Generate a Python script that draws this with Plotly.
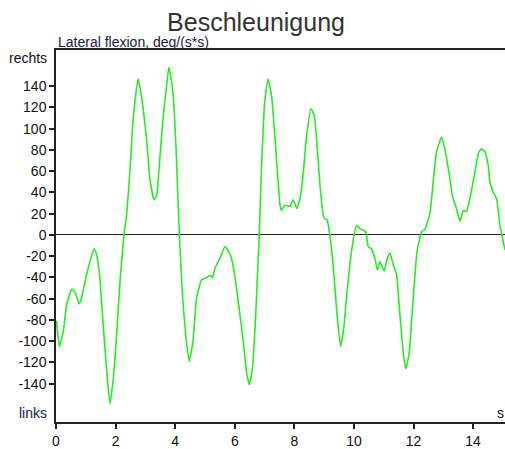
import plotly.graph_objects as go

time_s = [0.02, 0.11, 0.25, 0.36, 0.53, 0.64, 0.78, 0.86, 1.03, 1.20, 1.28, 1.37, 1.48, 1.59, 1.70,
          1.81, 1.92, 2.03, 2.15, 2.28, 2.37, 2.48, 2.57, 2.68, 2.76, 2.87, 3.04, 3.15, 3.29, 3.38,
          3.49, 3.60, 3.71, 3.79, 3.92, 4.03, 4.14, 4.25, 4.36, 4.47, 4.59, 4.72, 4.89, 5.06, 5.17,
          5.25, 5.34, 5.50, 5.67, 5.78, 5.89, 6.01, 6.17, 6.29, 6.40, 6.49, 6.60, 6.71, 6.82, 6.90,
          7.01, 7.12, 7.24, 7.41, 7.52, 7.57, 7.68, 7.85, 7.96, 8.08, 8.19, 8.30, 8.41, 8.56, 8.67,
          8.77, 8.86, 8.99, 9.10, 9.19, 9.31, 9.42, 9.55, 9.66, 9.77, 9.92, 10.09, 10.20, 10.34, 10.40,
          10.48, 10.59, 10.70, 10.79, 10.87, 11.01, 11.12, 11.21, 11.32, 11.43, 11.54, 11.66, 11.74, 11.85,
          11.99, 12.12, 12.27, 12.38, 12.55, 12.66, 12.77, 12.94, 13.05, 13.22, 13.31, 13.44, 13.56, 13.67,
          13.78, 13.89, 14.06, 14.19, 14.28, 14.40, 14.51, 14.56, 14.68, 14.79, 14.90, 15.07]
accel = [-81, -105, -90, -65, -51, -54, -65, -59, -37, -19, -13, -19, -43, -87, -127,
         -159, -136, -96, -43, 0, 19, 59, 102, 133, 147, 130, 90, 53, 33, 37,
         74, 112, 140, 158, 136, 81, 0, -59, -96, -119, -102, -59, -42, -40, -38,
         -40, -31, -22, -11, -15, -22, -40, -74, -102, -130, -141, -124, -71, 0, 65,
         127, 147, 130, 68, 28, 23, 28, 27, 33, 25, 34, 59, 93, 119, 112,
         81, 47, 16, 14, 0, -31, -71, -105, -87, -53, -15, 9, 6, 4, 3,
         -11, -13, -22, -33, -25, -34, -22, -17, -28, -37, -74, -112, -126, -112,
         -59, -15, 3, 5, 20, 50, 78, 92, 81, 53, 36, 25, 13, 23,
         22, 34, 59, 78, 81, 78, 65, 50, 40, 34, 9, -14]

x_ticks = [0, 2, 4, 6, 8, 10, 12, 14]
y_ticks = [-140, -120, -100, -80, -60, -40, -20, 0, 20, 40, 60, 80, 100, 120, 140]

fig = go.Figure()
fig.add_trace(go.Scatter(x=time_s, y=accel, mode="lines",
                         line=dict(color="#22ee22", width=1.6, shape="spline", smoothing=0.4),
                         showlegend=False, hoverinfo="skip"))

font = "Liberation Sans, Arial, sans-serif"
fig.update_layout(
    width=505, height=449,
    margin=dict(l=56, r=0, t=50, b=23),
    paper_bgcolor="white", plot_bgcolor="white",
    font=dict(family=font, size=14, color="#111111"),
    title=dict(text="Beschleunigung", x=0.507, xanchor="center", y=0.95, yanchor="middle",
               font=dict(family=font, size=25, color="#333333")),
    xaxis=dict(range=[0, 15.07], tickvals=x_ticks, ticktext=[str(v) for v in x_ticks],
               showgrid=False, zeroline=False, showline=True, linecolor="#222222", linewidth=1.5,
               mirror=True, ticks="outside", ticklen=5, tickcolor="#222222", tickwidth=1.5,
               tickfont=dict(size=14)),
    yaxis=dict(range=[-176, 174], tickvals=y_ticks, ticktext=[str(v) for v in y_ticks],
               showgrid=False, zeroline=True, zerolinecolor="#222222", zerolinewidth=1.2,
               showline=True, linecolor="#222222", linewidth=1.5,
               ticks="outside", ticklen=5, tickcolor="#222222", tickwidth=1.5,
               tickfont=dict(size=14)),
    annotations=[
        dict(text="Lateral flexion, deg/(s*s)", xref="paper", yref="paper", x=0, y=1.0,
             xanchor="left", yanchor="bottom", showarrow=False, yshift=-2,
             font=dict(size=14, color="#1a1a40")),
        dict(text="rechts", xref="paper", yref="paper", x=0, y=1.0, xanchor="right", yanchor="middle",
             xshift=-7, yshift=-8, showarrow=False, font=dict(size=14, color="#111111")),
        dict(text="links", xref="paper", yref="paper", x=0, y=0, xanchor="right", yanchor="middle",
             xshift=-7, yshift=9, showarrow=False, font=dict(size=14, color="#1a1a40")),
        dict(text="s", xref="paper", yref="paper", x=1, y=0, xanchor="right", yanchor="middle",
             xshift=1, yshift=9, showarrow=False, font=dict(size=14, color="#111111")),
    ],
)

fig.write_html("out.html")
